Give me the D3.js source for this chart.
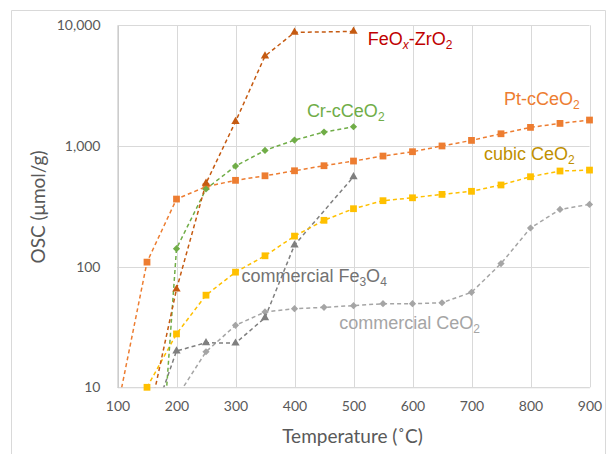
<!DOCTYPE html>
<html>
<head>
<meta charset="utf-8">
<script src="https://cdn.jsdelivr.net/npm/d3@7/dist/d3.min.js"></script>
<style>
  html, body { margin: 0; padding: 0; background: #fff; }
  svg { display: block; }
</style>
</head>
<body>
<svg id="chart" width="614" height="454"></svg>
<script>
// Oxygen storage capacity vs temperature
const xTicks = [100, 200, 300, 400, 500, 600, 700, 800, 900];
const yTicks = [10, 100, 1000, 10000];

const ptTemps   = [100, 150, 200, 250, 300, 350, 400, 450, 500, 550, 600, 650, 700, 750, 800, 850, 900];
const ptValues  = [6.7, 109, 363, 460, 519, 566, 623, 686, 750, 825, 896, 1000, 1112, 1262, 1426, 1538, 1640];

const feZrTemps  = [150, 200, 250, 300, 350, 400, 500];
const feZrValues = [4.8, 65, 490, 1590, 5560, 8730, 8900];

const crTemps   = [150, 200, 250, 300, 350, 400, 450, 500];
const crValues  = [0.05, 141, 440, 681, 919, 1119, 1303, 1443];

const cubicTemps  = [150, 200, 250, 300, 350, 400, 450, 500, 550, 600, 650, 700, 750, 800, 850, 900];
const cubicValues = [10, 27.7, 58, 90, 123, 179, 242, 302, 352, 372, 397, 421, 475, 556, 620, 631];

const fe3o4Temps  = [150, 200, 250, 300, 350, 400, 500];
const fe3o4Values = [4, 20, 23.4, 23.2, 37.7, 151, 556];

const comCeTemps  = [200, 250, 300, 350, 400, 450, 500, 550, 600, 650, 700, 750, 800, 850, 900];
const comCeValues = [8.2, 19.7, 32.6, 42.1, 44.8, 46, 47.5, 49.3, 49.3, 50.2, 61.3, 106, 209, 298, 328];

const series = [
  { temps: comCeTemps, values: comCeValues, color: "#A5A5A5", marker: "diamond" },
  { temps: fe3o4Temps, values: fe3o4Values, color: "#7F7F7F", marker: "triangle" },
  { temps: cubicTemps, values: cubicValues, color: "#FFC000", marker: "square" },
  { temps: ptTemps,    values: ptValues,    color: "#ED7D31", marker: "square" },
  { temps: crTemps,    values: crValues,    color: "#70AD47", marker: "diamond" },
  { temps: feZrTemps,  values: feZrValues,  color: "#C55A11", marker: "triangle" }
];

// Series labels: text parts, colour, anchor (temperature, OSC) of the baseline start
const labels = [
  { parts: [["FeO", ""], ["x", "subItalic"], ["-ZrO", ""], ["2", "sub"]], color: "#C00000", t: 524, v: 6900 },
  { parts: [["Cr-cCeO", ""], ["2", "sub"]], color: "#70AD47", t: 421, v: 1750 },
  { parts: [["Pt-cCeO", ""], ["2", "sub"]], color: "#ED7D31", t: 755, v: 2180 },
  { parts: [["cubic CeO", ""], ["2", "sub"]], color: "#BF9000", t: 721, v: 770 },
  { parts: [["commercial Fe", ""], ["3", "sub"], ["O", ""], ["4", "sub"]], color: "#737373", t: 310, v: 75 },
  { parts: [["commercial CeO", ""], ["2", "sub"]], color: "#A5A5A5", t: 476, v: 30.4 }
];

const svg = d3.select("#chart");
const W = 614, H = 454;
const margin = { left: 117.5, right: W - 589.5, top: 25.3, bottom: H - 387.3 };

const x = d3.scaleLinear().domain([100, 900]).range([margin.left, W - margin.right]);
const y = d3.scaleLog().domain([10, 10000]).range([H - margin.bottom, margin.top]);

// outer chart frame
svg.append("path")
  .attr("d", `M11.5,${H} V10.5 H605.5 V${H}`)
  .attr("fill", "none").attr("stroke", "#D9D9D9").attr("stroke-width", 1);

const fmt = d3.format(",");

// gridlines
const grid = svg.append("g");
grid.selectAll("line.v").data(xTicks).join("line")
  .attr("class", "v")
  .attr("x1", d => Math.round(x(d)) + 0.5).attr("x2", d => Math.round(x(d)) + 0.5)
  .attr("y1", y(10000)).attr("y2", y(10))
  .attr("stroke", "#D9D9D9");
grid.selectAll("line.h").data(yTicks).join("line")
  .attr("class", "h")
  .attr("x1", x(100)).attr("x2", x(900))
  .attr("y1", d => Math.round(y(d)) + 0.5).attr("y2", d => Math.round(y(d)) + 0.5)
  .attr("stroke", "#D9D9D9");

// axes
const xAxis = d3.axisBottom(x).tickValues(xTicks).tickSize(0).tickPadding(14).tickFormat(d3.format("d"));
const yAxis = d3.axisLeft(y).tickValues(yTicks).tickSize(0).tickPadding(17).tickFormat(fmt);

const gx = svg.append("g").attr("transform", `translate(0,${y(10)})`).call(xAxis);
const gy = svg.append("g").attr("transform", `translate(${x(100)},0)`).call(yAxis);
[gx, gy].forEach(g => {
  g.select(".domain").attr("stroke", "#BFBFBF");
  g.selectAll("text").attr("font-family", "Lato, 'Open Sans', sans-serif")
    .attr("font-size", 14).attr("fill", "#595959");
});
gx.select(".domain").attr("stroke", "#D9D9D9");

// axis titles
svg.append("text")
  .attr("x", 352.5).attr("y", 443)
  .attr("text-anchor", "middle")
  .attr("font-family", "Lato, 'Open Sans', sans-serif").attr("font-size", 19)
  .attr("fill", "#595959")
  .text("Temperature (˚C)");
svg.append("text")
  .attr("transform", "translate(45,207) rotate(-90)")
  .attr("text-anchor", "middle")
  .attr("font-family", "Lato, 'Open Sans', sans-serif").attr("font-size", 19)
  .attr("fill", "#595959")
  .text("OSC (μmol/g)");

// plot clip for the connecting lines
svg.append("clipPath").attr("id", "plotClip")
  .append("rect")
  .attr("x", x(100) - 6).attr("y", y(10000) - 8)
  .attr("width", x(900) - x(100) + 12).attr("height", y(10) - y(10000) + 8);

const lines = svg.append("g").attr("clip-path", "url(#plotClip)");
const marks = svg.append("g");

const line = d3.line()
  .x(d => x(d[0]))
  .y(d => y(Math.max(d[1], 1e-3)));

series.forEach(s => {
  const pts = s.temps.map((t, i) => [t, s.values[i]]);
  lines.append("path")
    .datum(pts)
    .attr("d", line)
    .attr("fill", "none")
    .attr("stroke", s.color)
    .attr("stroke-width", 1.5)
    .attr("stroke-dasharray", "4,3");

  const visible = pts.filter(p => p[1] >= 9.9);
  // diamonds are squares turned by 45 degrees
  const symType = s.marker === "triangle" ? d3.symbolTriangle : d3.symbolSquare;
  const size = s.marker === "square" ? 46 : s.marker === "triangle" ? 30 : 26;
  const rot = s.marker === "diamond" ? 45 : 0;
  marks.selectAll(null).data(visible).join("path")
    .attr("transform", d => `translate(${x(d[0])},${y(d[1])}) rotate(${rot})`)
    .attr("d", d3.symbol(symType, size))
    .attr("fill", s.color);
});

// series labels
labels.forEach(l => {
  const txt = svg.append("text")
    .attr("x", x(l.t)).attr("y", y(l.v))
    .attr("font-family", "'Liberation Sans', Arial, sans-serif")
    .attr("font-size", 18)
    .attr("fill", l.color);
  l.parts.forEach(([str, kind], i) => {
    const span = txt.append("tspan").text(str);
    const isSub = kind === "sub" || kind === "subItalic";
    if (kind === "subItalic") span.attr("font-style", "italic");
    if (isSub) span.attr("font-size", 12).attr("dy", 4);
    const prev = i > 0 ? l.parts[i - 1][1] : "";
    const prevSub = prev === "sub" || prev === "subItalic";
    if (prevSub && !isSub) span.attr("dy", -4);
  });
});
</script>
</body>
</html>
